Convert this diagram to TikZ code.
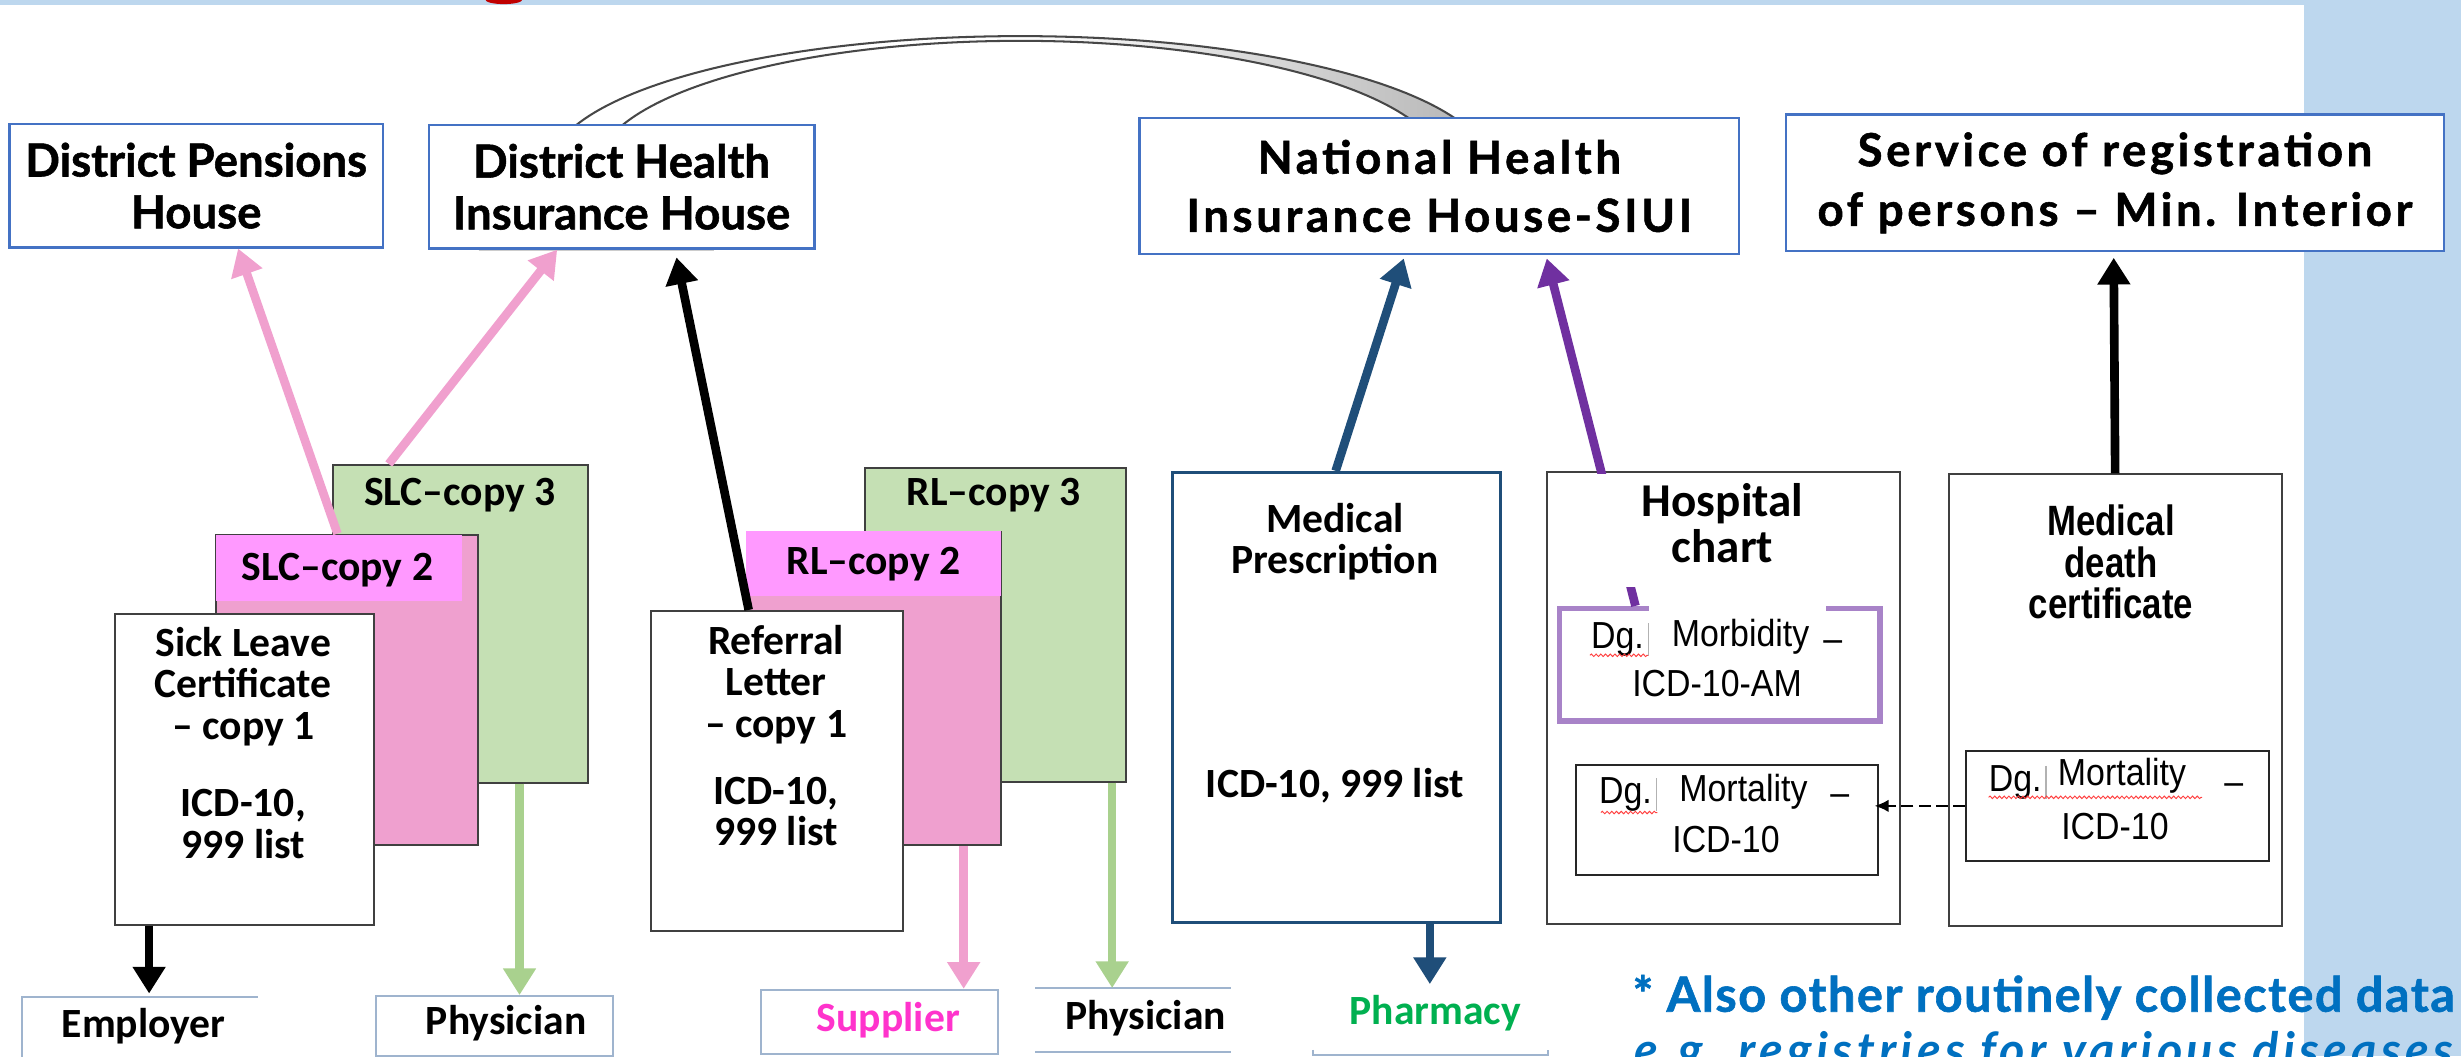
\documentclass[tikz,border=0pt]{standalone}
\usepackage{fontspec}
\setmainfont{Carlito}
\newfontfamily\comicf[BoldFeatures={FakeBold=1.2}]{Lato}
\newfontfamily\comicwide[LetterSpace=8,BoldFeatures={FakeBold=1.2}]{Lato}
\newfontfamily\comicnote[LetterSpace=3,BoldFeatures={FakeBold=1.2}]{Lato}
\newfontfamily\comicnotewide[LetterSpace=9,BoldFeatures={FakeBold=1.2}]{Lato}
\newfontfamily\arialn[FakeStretch=0.9]{Liberation Sans}
\newfontfamily\arialnb[FakeStretch=0.82]{Liberation Sans}
\usetikzlibrary{arrows.meta,decorations.pathmorphing}
\definecolor{panelblue}{HTML}{BDD7EE}
\definecolor{boxblue}{HTML}{4472C4}
\definecolor{pinkarrow}{HTML}{F0A0CE}
\definecolor{pinkbody}{HTML}{EFA0CF}
\definecolor{magband}{HTML}{FF99FF}
\definecolor{greenbody}{HTML}{C5E0B4}
\definecolor{greenarrow}{HTML}{A9D18E}
\definecolor{navy}{HTML}{1F4E79}
\definecolor{purplearrow}{HTML}{7030A0}
\definecolor{lilac}{HTML}{A883C8}
\definecolor{framegray}{HTML}{404040}
\definecolor{lblgray}{HTML}{9FB4CE}
\definecolor{noteblue}{HTML}{0070C0}
\definecolor{supplier}{HTML}{FF33CC}
\definecolor{pharm}{HTML}{00B050}
\definecolor{titlered}{HTML}{C00000}
\tikzset{
  topbox/.style={draw=boxblue, line width=1.5pt, fill=white, inner sep=0pt, align=center,
     font=\comicf\bfseries\fontsize{29}{33}\selectfont},
  sheet/.style={draw=framegray, line width=1.2pt, inner sep=0pt, anchor=north west},
  caltext/.style={inner sep=0pt, align=center, font=\bfseries\fontsize{26.5}{26.4}\selectfont},
  hosptext/.style={inner sep=0pt, align=center, font=\bfseries\fontsize{30}{29}\selectfont},
  deathtext/.style={inner sep=0pt, align=center, font=\arialnb\bfseries\fontsize{27}{26.3}\selectfont},
  dgtext/.style={inner sep=0pt, anchor=base west, font=\arialn\fontsize{24}{28}\selectfont},
  fat/.style={line width=5.5pt, -{Triangle[length=17pt,width=20pt]}},
  lblframe/.style={draw=none, inner sep=0pt, anchor=north west},
  frameline/.style={draw=lblgray, line width=1.2pt},
  lbltext/.style={inner sep=0pt, anchor=base, font=\bfseries\fontsize{26.5}{30}\selectfont},
  squiggle/.style={draw=red!75, line width=0.6pt, decorate, decoration={snake, amplitude=0.8pt, segment length=3pt}},
  notetext/.style={inner sep=0pt, anchor=base west, text=noteblue, font=\comicnote\bfseries\fontsize{31}{35}\selectfont},
}
\begin{document}
\begin{tikzpicture}[x=1pt,y=-1pt]
\useasboundingbox (0,0) rectangle (1568,673);
\clip (0,0) rectangle (1568,673);
\fill[white] (0,0) rectangle (1568,673);
\fill[panelblue] (1468,0) rectangle (1568,673);
\fill[panelblue] (0,0) rectangle (1568,3.2);
\fill[titlered] plot[domain=0:180, samples=30] ({321+11.5*cos(\x)},{2.6*sin(\x)}) -- cycle;

% ribbon arc between the insurance houses
\fill[left color=white, right color=black!28, middle color=white]
  plot[domain=-161:-19, samples=90] ({650+300*cos(\x)},{108+85*sin(\x)})
  -- plot[domain=-19.2:-160.2, samples=90] ({650+270*cos(\x)},{108+82*sin(\x)}) -- cycle;
\draw[black!72, line width=1.3pt] plot[domain=-161:-19, samples=90] ({650+300*cos(\x)},{108+85*sin(\x)});
\draw[black!72, line width=1.3pt] plot[domain=-160.2:-19.2, samples=90] ({650+270*cos(\x)},{108+82*sin(\x)});

% top boxes
\node[topbox, minimum width=238pt, minimum height=78.6pt] (pens) at (125,118.3) {District Pensions\\House};
\node[topbox, minimum width=245.7pt, minimum height=78.7pt] (dhih) at (396,119) {District Health\\Insurance House};
\draw[gray!40, line width=1.2pt] (305,159.6) -- (455,159.6);
\node[topbox, minimum width=382pt, minimum height=87pt, font=\comicwide\bfseries\fontsize{29}{37}\selectfont] (nhih) at (917,118.5) {National Health\\Insurance House-SIUI};
\node[topbox, minimum width=419pt, minimum height=87pt, font=\comicwide\bfseries\fontsize{29}{38}\selectfont] (serv) at (1347.5,116.5) {Service of registration\\of persons – Min. Interior};

% sick leave certificate stack
\node[sheet, fill=greenbody, minimum width=162.4pt, minimum height=202.4pt] (slc3) at (211.6,295.6) {};
\node[caltext, anchor=base] (slc3t) at (293,322) {SLC–copy 3};
\node[sheet, fill=pinkbody, minimum width=167pt, minimum height=198pt] (slc2) at (137,340) {};
\fill[magband] ([shift={(0.6pt,-0.6pt)}]slc2.north west) rectangle ([shift={(-11pt,-43pt)}]slc2.north east);
\node[caltext, anchor=base] (slc2t) at (215,369.8) {SLC–copy 2};
\node[sheet, fill=white, minimum width=165pt, minimum height=198.4pt] (slc1) at (72.6,390.6) {};
\node[caltext, anchor=north] (slc1t) at (155,399.5) {Sick Leave\\Certificate\\– copy 1\\[23pt]ICD-10,\\999 list};

% referral letter stack
\node[sheet, fill=greenbody, minimum width=166.4pt, minimum height=200pt] (rl3) at (550.6,297.5) {};
\node[caltext, anchor=base] (rl3t) at (633,322) {RL–copy 3};
\node[sheet, fill=pinkbody, minimum width=162pt, minimum height=200pt] (rl2) at (475,338) {};
\fill[magband] ([shift={(0.6pt,-0.6pt)}]rl2.north west) rectangle ([shift={(-0.6pt,-42pt)}]rl2.north east);
\node[caltext, anchor=base] (rl2t) at (556.5,366) {RL–copy 2};
\node[sheet, fill=white, minimum width=161pt, minimum height=204pt] (rl1) at (414,388.6) {};
\node[caltext, anchor=north] (rl1t) at (494.5,398) {Referral\\Letter\\– copy 1\\[16.3pt]ICD-10,\\999 list};

% medical prescription
\node[draw=navy, line width=1.8pt, fill=white, inner sep=0pt, anchor=north west, minimum width=209pt, minimum height=287pt] (presc) at (746,300) {};
\node[caltext, anchor=north] (presct) at (850.5,320.5) {Medical\\Prescription};
\node[caltext, anchor=base] (prescicd) at (850.5,508) {ICD-10, 999 list};

% hospital chart
\node[draw=black!75, line width=1.3pt, fill=white, inner sep=0pt, anchor=north west, minimum width=224.7pt, minimum height=288pt] (hosp) at (985,300) {};
\node[draw=lilac, line width=3.5pt, fill=white, inner sep=0pt, anchor=north west, minimum width=204pt, minimum height=71.5pt] (morb) at (992,386) {};
\draw[fat, purplearrow, shorten >=2pt] (1042,0 |- morb.north) -- (985,0 |- nhih.south);
\node[fill=white, inner sep=0pt, anchor=north west, minimum width=174pt, minimum height=72.5pt] (hospbg) at (1011,301.5) {};
\node[hosptext, anchor=north] (hospt) at (1097.5,308) {Hospital\\chart};
\node[fill=white, inner sep=0pt, anchor=north west, minimum width=112.5pt, minimum height=36pt] (morbbg) at (1050.5,383.5) {};
\draw[gray!60, line width=0.8pt] (morbbg.west |- 0,397) -- (morbbg.west |- 0,418);
\node[dgtext] (dg1) at (1013.5,413) {Dg.};
\draw[squiggle] (1013,417.5) -- (1050,417.5);
\node[dgtext] (morbt) at (1065,411.8) {Morbidity};
\node[dgtext] (dash1) at (1161.5,415) {–};
\node[dgtext, anchor=base] (icdam) at (1094,444) {ICD-10-AM};
\node[draw=black!85, line width=1.3pt, fill=white, inner sep=0pt, anchor=north west, minimum width=192.5pt, minimum height=70pt] (mort1) at (1003.5,487) {};
\node[dgtext] (dg2) at (1018.6,512) {Dg.};
\draw[gray!60, line width=0.8pt] (1055.6,496) -- (1055.6,517);
\draw[squiggle] (1020,517.7) -- (1056,517.7);
\node[dgtext] (mort1t) at (1069.8,510.7) {Mortality};
\node[dgtext] (dash2) at (1166,513.5) {–};
\node[dgtext, anchor=base] (icd1) at (1099.7,543) {ICD-10};

% medical death certificate
\node[draw=black!75, line width=1.3pt, fill=white, inner sep=0pt, anchor=north west, minimum width=212pt, minimum height=288pt] (death) at (1241,301.6) {};
\node[deathtext, anchor=north] (deatht) at (1345,321.6) {Medical\\death\\certificate};
\node[draw=black!85, line width=1.3pt, fill=white, inner sep=0pt, anchor=north west, minimum width=193pt, minimum height=70.4pt] (mort2) at (1252,477.6) {};
\node[dgtext] (dg3) at (1267,504.4) {Dg.};
\draw[gray!60, line width=0.8pt] (1303.6,488) -- (1303.6,509);
\draw[squiggle] (1267,508) -- (1403,508);
\node[dgtext] (mort2t) at (1311,500.7) {Mortality};
\node[dgtext] (dash3) at (1417,506) {–};
\node[dgtext, anchor=base] (icd2) at (1347.5,535) {ICD-10};

\draw[line width=1.6pt, dash pattern=on 7.5pt off 3.5pt, -{Latex[length=9pt,width=8pt]}, shorten >=-3pt] (mort2.west) -- (mort1.east |- mort2.west);

% bottom label frames
\node[lblframe, minimum width=150pt, minimum height=60pt] (emp) at (14,635) {};
\draw[frameline] (emp.south west) -- (emp.north west) -- (emp.north east);
\node[lbltext] (empt) at (91.5,661) {Employer};
\node[lblframe, draw=lblgray, line width=1.2pt, minimum width=151pt, minimum height=38pt] (phys1) at (239,634) {};
\node[lbltext] (phys1t) at (322.5,659) {Physician};
\node[lblframe, draw=lblgray, line width=1.2pt, minimum width=151pt, minimum height=41pt] (supp) at (484,630) {};
\node[lbltext, text=supplier] (suppt) at (566,657) {Supplier};
\node[lblframe, minimum width=124.5pt, minimum height=40.5pt] (phys2) at (659.5,629.5) {};
\draw[frameline] (phys2.north west) -- (phys2.north east);
\draw[frameline] (phys2.south west) -- (phys2.south east);
\node[lbltext] (phys2t) at (730,656) {Physician};
\node[lblframe, minimum width=149.2pt, minimum height=44.5pt] (pharmf) at (836.6,627) {};
\draw[frameline] ([yshift=3pt]pharmf.south west) -- (pharmf.south west) -- (pharmf.south east) -- ([yshift=3pt]pharmf.south east);
\node[lbltext, text=pharm] (pharmt) at (914.5,653) {Pharmacy};

% arrows
\draw[fat, pinkarrow] (215,0 |- slc2.north) -- (151.7,0 |- pens.south);
\draw[fat, pinkarrow] (247.7,0 |- slc3.north) -- (355,0 |- dhih.south);
\draw[fat, black, shorten >=5pt] (477,0 |- rl1.north) -- (430,0 |- dhih.south);
\draw[fat, black, shorten >=2pt] (95,0 |- slc1.south) -- (95,0 |- emp.north);
\draw[fat, greenarrow] (331,0 |- slc3.south) -- (331,0 |- phys1.north);
\draw[fat, pinkarrow] (614,0 |- rl2.south) -- (614,0 |- supp.north);
\draw[fat, greenarrow] (708.6,0 |- rl3.south) -- (708.6,0 |- phys2.north);
\draw[fat, navy, shorten >=2pt] (851,0 |- presc.north) -- (895,0 |- nhih.south);
\draw[fat, navy] (911,0 |- presc.south) -- (911,0 |- pharmf.north);
\draw[fat, black, shorten >=3.5pt] (death.north) -- (1346.7,0 |- serv.south);

% note
\node[notetext] (note1) at (1040,644.6) {* Also other routinely collected data};
\node[notetext, font=\comicnotewide\bfseries\itshape\fontsize{31}{35}\selectfont] (note2) at (1041,680) {e.g. registries for various diseases};
\end{tikzpicture}
\end{document}
